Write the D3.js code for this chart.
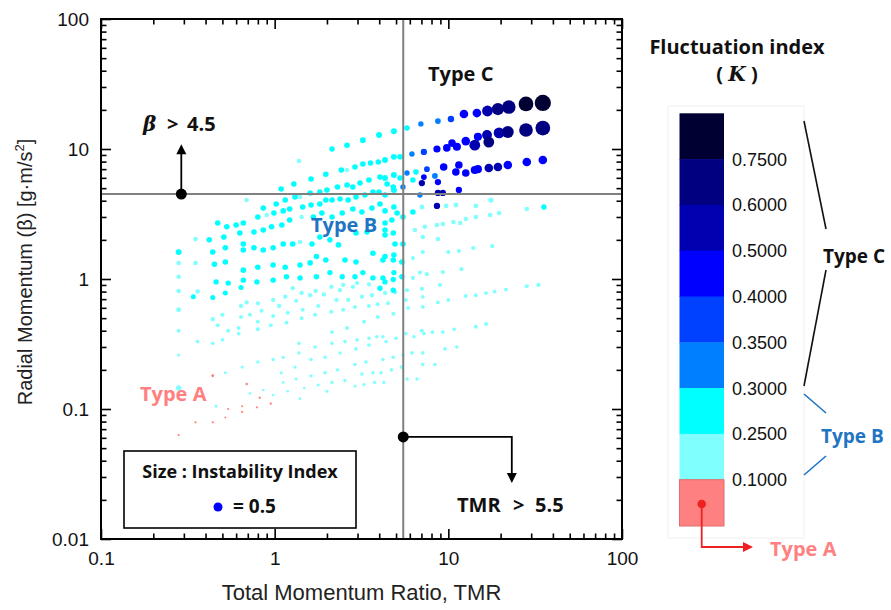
<!DOCTYPE html>
<html><head><meta charset="utf-8">
<script src="https://cdn.jsdelivr.net/npm/d3@7"></script>
<style>body{margin:0;background:#fff}</style>
</head><body>
<svg id="chart" width="891" height="610"></svg>
<script>
// ---------- data: [TMR, beta, fluctuation K, instability index] ----------
const typeA = [
[0.44,0.18,0.05,0.16],[0.69,0.156,0.05,0.14],[0.82,0.122,0.05,0.13],[0.54,0.1,0.05,0.12],
[0.65,0.105,0.05,0.12],[0.79,0.103,0.05,0.12],[0.65,0.095,0.05,0.12],[0.95,0.11,0.05,0.13],
[0.52,0.086,0.05,0.11],[0.44,0.079,0.05,0.12],[0.35,0.079,0.05,0.12],[0.28,0.063,0.05,0.12]
];
const typeB = [
[4.86,13.7,0.27,0.33],[3.99,12.8,0.27,0.33],[3.22,11.7,0.27,0.32],[2.61,10.7,0.27,0.31],
[2.14,10.0,0.27,0.3],[1.38,8.08,0.18,0.25],[5.78,14.5,0.27,0.31],[4.86,8.7,0.27,0.33],
[4.32,8.23,0.27,0.33],[3.95,7.94,0.27,0.31],[3.56,7.8,0.27,0.31],[3.22,7.67,0.27,0.31],
[2.9,7.27,0.27,0.31],[2.61,6.89,0.18,0.25],[2.42,6.89,0.27,0.31],[1.97,6.4,0.27,0.31],
[1.62,5.88,0.27,0.31],[1.29,5.38,0.27,0.31],[1.09,4.93,0.27,0.31],[5.27,8.7,0.27,0.31],
[6.25,3.28,0.27,0.31],[4.86,6.31,0.27,0.33],[4.32,5.98,0.27,0.33],[4.04,6.08,0.27,0.31],
[3.49,5.78,0.27,0.31],[3.1,5.47,0.27,0.31],[2.82,5.1,0.27,0.31],[2.61,5.29,0.27,0.31],
[2.3,5.1,0.27,0.31],[2.0,4.84,0.27,0.31],[1.82,4.67,0.27,0.31],[1.6,4.59,0.27,0.31],
[1.4,4.28,0.18,0.25],[1.31,4.28,0.27,0.31],[1.15,4.05,0.27,0.31],[1.02,3.78,0.27,0.31],
[0.86,3.51,0.27,0.31],[0.69,4.05,0.18,0.25],[5.27,5.98,0.27,0.31],[4.86,4.84,0.27,0.33],
[4.44,5.38,0.27,0.31],[3.99,4.67,0.27,0.31],[3.68,4.67,0.27,0.31],[3.31,4.43,0.27,0.31],
[2.94,4.28,0.27,0.31],[2.65,4.05,0.27,0.31],[2.38,4.13,0.27,0.31],[2.14,4.05,0.27,0.31],
[1.97,4.05,0.27,0.31],[1.82,3.78,0.27,0.31],[1.62,3.71,0.27,0.31],[1.45,3.58,0.27,0.31],
[1.22,3.45,0.27,0.31],[1.12,3.34,0.27,0.31],[0.99,3.22,0.27,0.31],[0.9,3.11,0.18,0.25],
[0.8,3.0,0.27,0.31],[0.66,2.7,0.27,0.31],[0.6,2.6,0.27,0.31],[0.53,2.52,0.27,0.31],
[0.47,2.7,0.27,0.31],[4.32,4.43,0.27,0.31],[4.82,5.1,0.27,0.31],[4.86,3.58,0.27,0.31],
[4.32,3.34,0.27,0.31],[4.04,3.78,0.27,0.31],[3.63,3.51,0.27,0.31],[3.18,3.28,0.27,0.31],
[2.82,3.45,0.27,0.31],[2.45,3.22,0.27,0.31],[2.14,3.0,0.27,0.31],[1.87,3.22,0.27,0.31],
[1.67,3.0,0.27,0.31],[1.43,3.0,0.18,0.25],[1.22,2.84,0.27,0.31],[1.1,2.6,0.27,0.31],
[0.96,2.52,0.27,0.31],[0.86,2.38,0.27,0.31],[0.76,2.3,0.27,0.31],[0.63,2.26,0.27,0.31],
[0.51,2.1,0.27,0.31],[0.42,2.0,0.27,0.31],[0.35,2.03,0.18,0.25],[5.07,3.22,0.27,0.31],
[5.48,3.0,0.27,0.31],[4.73,2.84,0.27,0.31],[4.32,2.7,0.27,0.31],[4.32,2.38,0.27,0.31],
[3.4,2.3,0.27,0.31],[2.94,2.26,0.27,0.31],[2.33,1.83,0.27,0.31],[2.08,2.0,0.27,0.31],
[1.82,2.1,0.27,0.31],[1.64,1.86,0.27,0.31],[1.4,1.93,0.18,0.25],[1.27,1.86,0.27,0.31],
[1.12,1.86,0.27,0.31],[0.98,1.74,0.27,0.31],[0.86,1.67,0.27,0.31],[0.76,1.74,0.27,0.31],
[0.66,1.86,0.27,0.31],[0.66,1.67,0.27,0.31],[0.52,1.74,0.27,0.31],[0.44,1.61,0.27,0.31],
[0.28,1.61,0.27,0.33],[4.32,2.18,0.27,0.31],[4.82,2.26,0.27,0.31],[4.93,1.86,0.27,0.31],
[5.48,1.86,0.27,0.31],[4.86,1.53,0.27,0.31],[4.32,1.49,0.27,0.31],[3.68,1.58,0.27,0.31],
[2.94,1.35,0.27,0.31],[2.54,1.4,0.27,0.31],[1.97,1.4,0.27,0.31],[1.74,1.49,0.27,0.31],
[1.6,1.33,0.27,0.31],[1.4,1.28,0.27,0.31],[1.15,1.23,0.27,0.31],[0.98,1.28,0.27,0.31],
[0.8,1.23,0.27,0.31],[0.66,1.17,0.27,0.31],[0.52,1.35,0.27,0.31],[0.45,1.3,0.27,0.31],
[0.35,1.33,0.18,0.25],[0.28,1.33,0.18,0.25],[4.2,1.4,0.27,0.31],[4.82,1.4,0.27,0.31],
[5.4,1.35,0.27,0.31],[4.86,1.12,0.27,0.3],[4.2,1.02,0.27,0.3],[3.68,1.02,0.27,0.3],
[3.22,1.12,0.27,0.3],[2.9,1.04,0.27,0.3],[2.45,1.04,0.27,0.3],[2.08,1.12,0.27,0.3],
[1.74,1.04,0.27,0.3],[1.4,1.02,0.27,0.3],[1.17,1.04,0.27,0.3],[0.98,0.98,0.27,0.3],
[0.79,0.95,0.27,0.3],[0.66,0.98,0.27,0.3],[0.54,0.93,0.27,0.3],[0.46,0.95,0.27,0.3],
[0.28,1.04,0.18,0.25],[0.28,0.81,0.18,0.25],[0.36,0.8,0.18,0.25],[4.82,0.82,0.27,0.3],
[4.32,0.95,0.27,0.3],[4.04,0.85,0.27,0.3],[4.82,0.99,0.27,0.3],[5.4,1.04,0.27,0.3],
[6.51,6.66,0.27,0.31],[6.25,5.78,0.27,0.31],[7.04,3.58,0.18,0.27],[9.7,3.65,0.18,0.27],
[11.05,3.71,0.18,0.27],[14.4,3.65,0.18,0.27],[17.6,4.05,0.18,0.29],[17.4,3.11,0.18,0.25],
[19.6,3.22,0.18,0.25],[28.3,3.45,0.18,0.25],[35.5,3.58,0.27,0.3],[14.4,3.0,0.18,0.25],
[12.6,2.9,0.18,0.25],[11.7,2.7,0.18,0.25],[10.7,2.74,0.18,0.25],[9.3,2.65,0.18,0.25],
[8.6,2.6,0.18,0.25],[7.33,2.52,0.18,0.25],[6.42,2.38,0.18,0.25],[8.71,2.03,0.18,0.25],
[7.13,2.1,0.18,0.25],[17.9,1.79,0.18,0.23],[13.9,1.73,0.18,0.23],[11.5,1.64,0.18,0.23],
[10.0,1.61,0.18,0.23],[7.13,1.61,0.18,0.23],[6.25,1.45,0.18,0.23],[11.9,1.19,0.18,0.23],
[9.3,1.13,0.18,0.23],[7.53,1.09,0.18,0.23],[6.86,1.12,0.18,0.23],[6.25,1.02,0.18,0.23],
[28.3,0.88,0.18,0.23],[33.0,0.9,0.18,0.24],[21.5,0.83,0.18,0.21],[18.5,0.8,0.18,0.21],
[16.5,0.78,0.18,0.21],[14.4,0.75,0.18,0.21],[12.6,0.74,0.18,0.21],[8.95,0.9,0.18,0.23],
[7.04,0.84,0.18,0.23],[10.0,0.69,0.18,0.21],[8.71,0.66,0.18,0.21],[7.13,0.73,0.18,0.21],
[7.13,0.61,0.18,0.21],[5.78,0.82,0.18,0.23],[5.7,0.69,0.18,0.21],[5.87,0.6,0.18,0.21],
[0.34,0.73,0.27,0.28],[0.44,0.72,0.27,0.28],[0.52,0.78,0.27,0.28],[0.64,0.86,0.27,0.28],
[0.28,0.58,0.18,0.27],[0.44,0.49,0.18,0.24],[0.5,0.53,0.18,0.24],[0.64,0.62,0.18,0.24],
[0.69,0.66,0.18,0.24],[0.8,0.65,0.18,0.24],[0.84,0.57,0.18,0.22],[0.98,0.69,0.18,0.24],
[1.06,0.62,0.18,0.24],[1.15,0.73,0.18,0.24],[1.43,0.78,0.18,0.24],[1.27,0.85,0.18,0.24],
[1.6,0.75,0.18,0.24],[1.72,0.81,0.18,0.24],[1.92,0.76,0.18,0.24],[2.12,0.87,0.18,0.24],
[2.38,0.82,0.18,0.24],[2.48,0.9,0.18,0.24],[2.82,0.87,0.18,0.24],[2.98,0.93,0.18,0.24],
[3.49,0.91,0.18,0.24],[4.32,0.78,0.18,0.24],[4.93,0.79,0.18,0.24],[3.63,0.75,0.18,0.24],
[3.18,0.73,0.18,0.24],[2.65,0.69,0.18,0.24],[2.27,0.69,0.18,0.24],[1.78,0.62,0.18,0.22],
[1.45,0.58,0.18,0.22],[1.33,0.68,0.18,0.22],[1.19,0.55,0.18,0.22],[0.98,0.52,0.18,0.22],
[0.8,0.47,0.18,0.22],[0.72,0.53,0.18,0.22],[0.64,0.51,0.18,0.22],[0.47,0.44,0.18,0.22],
[0.54,0.4,0.18,0.22],[0.62,0.42,0.18,0.22],[0.8,0.41,0.18,0.22],[0.95,0.44,0.18,0.22],
[1.17,0.46,0.18,0.22],[1.43,0.5,0.18,0.22],[1.71,0.53,0.18,0.22],[2.12,0.56,0.18,0.22],
[2.48,0.58,0.18,0.22],[2.9,0.61,0.18,0.22],[3.49,0.62,0.18,0.22],[3.92,0.64,0.18,0.22],
[4.5,0.65,0.18,0.22],[4.82,0.54,0.18,0.22],[3.92,0.51,0.18,0.22],[3.27,0.47,0.18,0.22],
[2.61,0.42,0.18,0.22],[0.28,0.4,0.18,0.22],[0.36,0.33,0.18,0.2],[0.44,0.32,0.18,0.2],
[0.5,0.34,0.18,0.2],[0.62,0.38,0.18,0.2],[2.14,0.39,0.18,0.2],[2.54,0.33,0.18,0.2],
[2.98,0.34,0.18,0.2],[3.49,0.35,0.18,0.2],[3.87,0.36,0.18,0.2],[4.2,0.36,0.18,0.2],
[4.38,0.33,0.18,0.2],[5.0,0.35,0.18,0.2],[5.7,0.38,0.18,0.2],[6.34,0.36,0.18,0.2],
[7.04,0.4,0.18,0.22],[7.23,0.38,0.18,0.2],[8.1,0.39,0.18,0.2],[9.3,0.39,0.18,0.2],
[10.8,0.41,0.18,0.2],[14.4,0.43,0.18,0.22],[16.5,0.45,0.18,0.22],[1.38,0.32,0.18,0.2],
[1.71,0.3,0.18,0.2],[2.14,0.32,0.18,0.2],[2.38,0.27,0.18,0.18],[2.94,0.29,0.18,0.2],
[3.49,0.31,0.18,0.2],[0.28,0.26,0.18,0.17],[0.52,0.19,0.18,0.16],[0.65,0.21,0.18,0.17],
[0.8,0.23,0.18,0.18],[0.98,0.24,0.18,0.19],[1.12,0.25,0.18,0.18],[1.38,0.27,0.18,0.19],
[1.62,0.24,0.18,0.19],[1.95,0.25,0.18,0.19],[2.9,0.22,0.18,0.2],[3.36,0.23,0.18,0.2],
[4.2,0.24,0.18,0.2],[4.82,0.25,0.18,0.2],[5.48,0.26,0.18,0.2],[6.17,0.27,0.18,0.2],
[7.13,0.27,0.18,0.2],[9.56,0.29,0.18,0.2],[11.2,0.3,0.18,0.2],[1.09,0.19,0.18,0.18],
[1.31,0.21,0.18,0.18],[1.62,0.18,0.18,0.18],[1.95,0.19,0.18,0.19],[2.3,0.2,0.18,0.19],
[3.18,0.186,0.18,0.19],[3.68,0.19,0.18,0.19],[4.1,0.19,0.18,0.19],[4.7,0.2,0.18,0.2],
[5.36,0.21,0.18,0.2],[7.13,0.22,0.18,0.2],[8.37,0.22,0.18,0.2],[1.33,0.17,0.18,0.17],
[1.78,0.153,0.18,0.17],[2.0,0.137,0.18,0.17],[2.14,0.16,0.18,0.18],[2.54,0.166,0.18,0.18],
[2.9,0.15,0.18,0.18],[3.27,0.154,0.18,0.18],[3.76,0.16,0.18,0.18],[4.25,0.16,0.18,0.18],
[5.78,0.17,0.18,0.19],[6.6,0.17,0.18,0.19],[0.86,0.14,0.18,0.15],[0.98,0.128,0.18,0.15],
[1.12,0.16,0.18,0.15],[1.19,0.137,0.18,0.15],[1.4,0.12,0.18,0.15],[1.48,0.145,0.18,0.15],
[0.72,0.132,0.18,0.15],[0.46,0.105,0.18,0.16],[0.28,0.145,0.18,0.3]
];
const typeC = [
[6.95,15.6,0.32,0.3],[8.71,16.4,0.32,0.32],[10.35,17.0,0.37,0.36],[12.3,18.6,0.45,0.48],
[14.6,18.9,0.45,0.48],[16.8,19.6,0.55,0.6],[19.3,20.3,0.68,0.68],[22.3,21.0,0.68,0.75],
[28.0,22.2,0.8,0.82],[35.0,22.6,0.8,0.9],[6.17,9.15,0.32,0.3],[7.23,9.5,0.37,0.35],
[8.6,10.0,0.45,0.4],[9.8,10.2,0.45,0.42],[10.5,11.1,0.45,0.42],[11.2,10.4,0.45,0.45],
[12.6,11.5,0.45,0.48],[14.2,10.7,0.55,0.6],[14.8,12.4,0.45,0.45],[16.7,12.8,0.55,0.55],
[17.1,11.3,0.68,0.6],[19.6,13.3,0.55,0.6],[22.0,13.5,0.68,0.66],[28.0,14.0,0.68,0.76],
[35.0,14.5,0.68,0.82],[9.4,7.27,0.45,0.42],[11.05,6.66,0.45,0.42],[11.5,7.53,0.45,0.42],
[12.6,6.54,0.45,0.42],[14.2,6.89,0.45,0.45],[14.8,7.0,0.45,0.45],[17.1,7.14,0.55,0.48],
[19.3,7.27,0.55,0.48],[22.0,7.53,0.45,0.48],[28.3,7.94,0.45,0.48],[35.0,8.23,0.45,0.48],
[5.78,6.54,0.32,0.3],[7.53,7.0,0.37,0.32],[7.23,6.08,0.45,0.32],[8.37,6.2,0.32,0.32],
[8.71,5.57,0.45,0.35],[7.04,5.47,0.55,0.35],[8.71,4.59,0.55,0.35],[9.3,4.59,0.55,0.35],
[11.5,4.84,0.45,0.35],[6.86,4.43,0.32,0.3],[8.6,3.65,0.55,0.35],[5.48,5.1,0.32,0.3]
];

// colour classes of the fluctuation index
const kBreaks = [0.1, 0.25, 0.3, 0.35, 0.4, 0.5, 0.6, 0.75];
const kColors = ["#ff8080","#80ffff","#00ffff","#0080ff","#0040ff","#0000ff","#0000b0","#000080","#000033"];
const cbLabels = ["0.7500","0.6000","0.5000","0.4000","0.3500","0.3000","0.2500","0.1000"];

// axes ticks
const tmrMajor = [0.1, 1, 10, 100];
const tmrLabels = ["0.1","1","10","100"];
const tmrMinor = [0.2,0.3,0.4,0.5,0.6,0.7,0.8,0.9,2,3,4,5,6,7,8,9,20,30,40,50,60,70,80,90];
const betaMajor = [0.01, 0.1, 1, 10, 100];
const betaLabels = ["0.01","0.1","1","10","100"];
const betaMinor = [0.02,0.03,0.04,0.05,0.06,0.07,0.08,0.09,0.2,0.3,0.4,0.5,0.6,0.7,0.8,0.9,2,3,4,5,6,7,8,9,20,30,40,50,60,70,80,90];

// thresholds & annotation anchors
const betaThreshold = 4.5, tmrThreshold = 5.5;
const legendSize = 0.5;

// ---------- drawing ----------
const svg = d3.select("#chart");
const W = 891, H = 610;
svg.append("rect").attr("width",W).attr("height",H).attr("fill","#fff");

const x = d3.scaleLog().domain([0.1,100]).range([101,622]);
const y = d3.scaleLog().domain([0.01,100]).range([539,19]);
const color = d3.scaleThreshold().domain(kBreaks).range(kColors);
const rad = d3.scaleLinear().domain([0,1]).range([0,9]);

const SANS = "'Open Sans', 'Noto Sans', sans-serif";
const ARIAL = "'Liberation Sans', Arial, sans-serif";

// points
const pts = [...typeA, ...typeB, ...typeC].slice().sort((a,b)=>a[3]-b[3]);
svg.append("g").selectAll("circle").data(pts).join("circle")
  .attr("cx", d=>x(d[0])).attr("cy", d=>y(d[1])).attr("r", d=>rad(d[3]))
  .attr("fill", d=>color(d[2]));

// threshold lines
const [X0,X1] = x.range(), [Y1,Y0] = y.range();
svg.append("line").attr("x1",X0).attr("x2",X1).attr("y1",y(betaThreshold)).attr("y2",y(betaThreshold))
  .attr("stroke","#808080").attr("stroke-width",2);
svg.append("line").attr("y1",Y0).attr("y2",Y1).attr("x1",x(tmrThreshold)).attr("x2",x(tmrThreshold))
  .attr("stroke","#808080").attr("stroke-width",2);

// axes
function styleAxis(g){ g.select(".domain").remove(); g.selectAll("line").attr("stroke","#000").attr("stroke-width",1.6);
  g.selectAll("text").attr("font-family",ARIAL).attr("font-size",19).attr("fill","#111"); }
svg.append("g").attr("transform",`translate(0,${Y1})`)
  .call(d3.axisBottom(x).tickValues(tmrMajor).tickFormat((d,i)=>tmrLabels[i]).tickSizeInner(-10).tickSizeOuter(0).tickPadding(13)).call(styleAxis);
svg.append("g").attr("transform",`translate(0,${Y1})`)
  .call(d3.axisBottom(x).tickValues(tmrMinor).tickFormat("").tickSizeInner(-5.5).tickSizeOuter(0)).call(styleAxis);
svg.append("g").attr("transform",`translate(0,${Y0})`)
  .call(d3.axisTop(x).tickValues(tmrMajor).tickFormat("").tickSizeInner(-10).tickSizeOuter(0)).call(styleAxis);
svg.append("g").attr("transform",`translate(0,${Y0})`)
  .call(d3.axisTop(x).tickValues(tmrMinor).tickFormat("").tickSizeInner(-5.5).tickSizeOuter(0)).call(styleAxis);
svg.append("g").attr("transform",`translate(${X0},0)`)
  .call(d3.axisLeft(y).tickValues(betaMajor).tickFormat((d,i)=>betaLabels[i]).tickSizeInner(-10).tickSizeOuter(0).tickPadding(12)).call(styleAxis);
svg.append("g").attr("transform",`translate(${X0},0)`)
  .call(d3.axisLeft(y).tickValues(betaMinor).tickFormat("").tickSizeInner(-5.5).tickSizeOuter(0)).call(styleAxis);
svg.append("g").attr("transform",`translate(${X1},0)`)
  .call(d3.axisRight(y).tickValues(betaMajor).tickFormat("").tickSizeInner(-10).tickSizeOuter(0)).call(styleAxis);
svg.append("g").attr("transform",`translate(${X1},0)`)
  .call(d3.axisRight(y).tickValues(betaMinor).tickFormat("").tickSizeInner(-5.5).tickSizeOuter(0)).call(styleAxis);
svg.append("rect").attr("x",X0).attr("y",Y0).attr("width",X1-X0).attr("height",Y1-Y0)
  .attr("fill","none").attr("stroke","#000").attr("stroke-width",2);

// axis titles
svg.append("text").attr("x",(X0+X1)/2).attr("y",600).attr("text-anchor","middle")
  .attr("font-family",ARIAL).attr("font-size",22).attr("fill","#222").text("Total Momentum Ratio, TMR");
const yt = svg.append("text").attr("transform","translate(32,272) rotate(-90)").attr("text-anchor","middle")
  .attr("font-family",ARIAL).attr("font-size",20).attr("fill","#222");
yt.append("tspan").text("Radial Momentum (β) [g·m/s");
yt.append("tspan").attr("font-size",13).attr("dy",-8).text("2");
yt.append("tspan").attr("dy",8).text("]");

// arrow helper
function arrowHead(tx,ty,dir,col){
  const L=10,Wd=5; let p;
  if(dir==="up") p=[[tx,ty],[tx-Wd,ty+L],[tx+Wd,ty+L]];
  else if(dir==="down") p=[[tx,ty],[tx-Wd,ty-L],[tx+Wd,ty-L]];
  else p=[[tx,ty],[tx-L,ty-Wd],[tx-L,ty+Wd]];
  svg.append("polygon").attr("points",p.map(q=>q.join(",")).join(" ")).attr("fill",col);
}

// beta threshold annotation
const bx = x(0.29), by = y(betaThreshold), btop = y(10.9);
svg.append("line").attr("x1",bx).attr("x2",bx).attr("y1",by).attr("y2",btop+8).attr("stroke","#000").attr("stroke-width",1.8);
arrowHead(bx,btop,"up","#000");
svg.append("circle").attr("cx",bx).attr("cy",by).attr("r",5.5).attr("fill","#000");
const bt = svg.append("text").attr("y",131).attr("font-weight","bold").attr("font-size",20).attr("fill","#111");
bt.append("tspan").attr("x",143).attr("font-family","'DejaVu Serif', serif").attr("font-style","italic").text("β");
bt.append("tspan").attr("x",167).attr("font-family",SANS).text(">");
bt.append("tspan").attr("x",187).attr("font-family",SANS).text("4.5");

// TMR threshold annotation
const tx0 = x(tmrThreshold), ty0 = y(0.061), tx1 = x(23.2), ty1 = y(0.027);
svg.append("path").attr("d",`M${tx0},${ty0}H${tx1}V${ty1-8}`).attr("fill","none").attr("stroke","#000").attr("stroke-width",1.8);
arrowHead(tx1,ty1,"down","#000");
svg.append("circle").attr("cx",tx0).attr("cy",ty0).attr("r",5.5).attr("fill","#000");
const tt = svg.append("text").attr("y",512).attr("font-weight","bold").attr("font-size",20).attr("fill","#111").attr("font-family",SANS);
tt.append("tspan").attr("x",457).text("TMR");
tt.append("tspan").attr("x",513).text(">");
tt.append("tspan").attr("x",535).text("5.5");

// type labels inside the plot
svg.append("text").attr("x",428).attr("y",81).attr("font-family",SANS).attr("font-weight","bold").attr("font-size",20).attr("fill","#111").text("Type C");
svg.append("text").attr("x",311).attr("y",232).attr("font-family",SANS).attr("font-weight","bold").attr("font-size",20).attr("fill","#1f74c4").text("Type B");
svg.append("text").attr("x",140).attr("y",401).attr("font-family",SANS).attr("font-weight","bold").attr("font-size",20).attr("fill","#ff8080").text("Type A");

// size legend box
svg.append("rect").attr("x",124).attr("y",451).attr("width",232).attr("height",77).attr("fill","#fff").attr("stroke","#000").attr("stroke-width",1.6);
svg.append("text").attr("x",240).attr("y",478).attr("text-anchor","middle").attr("font-family",SANS).attr("font-weight","bold").attr("font-size",18).attr("fill","#111").text("Size : Instability Index");
svg.append("circle").attr("cx",218).attr("cy",507).attr("r",rad(legendSize)).attr("fill","#0000ff");
svg.append("text").attr("x",233).attr("y",513).attr("font-family",SANS).attr("font-weight","bold").attr("font-size",19).attr("fill","#111").text("=  0.5");

// ---------- colour bar ----------
svg.append("rect").attr("x",668).attr("y",106).attr("width",136).attr("height",432).attr("fill","none").attr("stroke","#f0f0f0");
const cbColors = kColors.slice().reverse();
const cb = d3.scaleBand().domain(d3.range(cbColors.length)).range([113.3,525.5]);
svg.append("g").selectAll("rect").data(cbColors).join("rect")
  .attr("x",679.5).attr("width",44.5).attr("y",(d,i)=>cb(i)).attr("height",cb.bandwidth()+0.5)
  .attr("fill",d=>d).attr("stroke",(d,i)=>i===cbColors.length-1?"#e06c6c":"none").attr("stroke-width",1);
svg.append("g").selectAll("text").data(cbLabels).join("text")
  .attr("x",732).attr("y",(d,i)=>cb(i+1)).attr("dy","0.36em")
  .attr("font-family",ARIAL).attr("font-size",18).attr("fill","#111").text(d=>d);
svg.append("text").attr("x",737).attr("y",54).attr("text-anchor","middle").attr("font-family",SANS).attr("font-weight","bold").attr("font-size",20).attr("fill","#111").text("Fluctuation index");
const kt = svg.append("text").attr("x",737).attr("y",81).attr("text-anchor","middle").attr("font-weight","bold").attr("font-size",20).attr("fill","#111");
kt.append("tspan").attr("font-family",SANS).text("( ");
kt.append("tspan").attr("font-family","'DejaVu Serif', serif").attr("font-style","italic").text("K");
kt.append("tspan").attr("font-family",SANS).text(" )");

// brackets to type labels
const seg = (x1,y1,x2,y2,c)=>svg.append("line").attr("x1",x1).attr("y1",y1).attr("x2",x2).attr("y2",y2).attr("stroke",c).attr("stroke-width",1.6);
seg(804,121,826,229,"#111"); seg(826,270,804,386,"#111");
seg(804,394,826,413,"#1f74c4"); seg(826,456,804,475,"#1f74c4");
svg.append("text").attr("x",823).attr("y",263).attr("font-family",SANS).attr("font-weight","bold").attr("font-size",19).attr("fill","#111").text("Type C");
svg.append("text").attr("x",821).attr("y",443).attr("font-family",SANS).attr("font-weight","bold").attr("font-size",19).attr("fill","#1f74c4").text("Type B");
svg.append("path").attr("d","M701.7,504V547H744").attr("fill","none").attr("stroke","#ee2020").attr("stroke-width",1.8);
arrowHead(753,547,"right","#ee2020");
svg.append("circle").attr("cx",701.7).attr("cy",504).attr("r",4.3).attr("fill","#ee2020");
svg.append("text").attr("x",770).attr("y",556).attr("font-family",SANS).attr("font-weight","bold").attr("font-size",20).attr("fill","#ff8080").text("Type A");
</script>
</body></html>
